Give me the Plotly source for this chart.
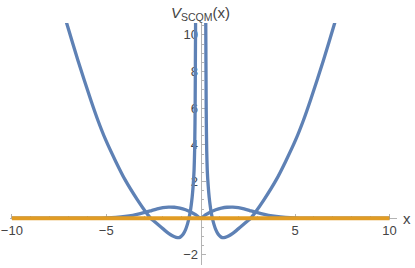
import plotly.graph_objects as go

# ---- data ----
# potential V_SCQM(x), right branch (x > 0) and left branch (x < 0)
v_x_right = [0.26, 0.27, 0.28, 0.29, 0.30, 0.32, 0.35, 0.40, 0.45, 0.50, 0.55, 0.62, 0.70,
             0.80, 0.92, 1.05, 1.15, 1.30, 1.50, 1.70, 1.90, 2.20, 2.45, 2.65, 2.90, 3.35,
             4.00, 4.50, 5.03, 5.45, 5.82, 6.50, 7.10, 7.40]
v_y_right = [13.0, 10.6, 8.5, 6.5, 5.2, 3.7, 2.6, 1.75, 1.15, 0.72, 0.36, 0.0, -0.32,
             -0.62, -0.86, -1.0, -1.06, -1.04, -0.95, -0.82, -0.66, -0.40, -0.18, 0.0, 0.33, 1.0,
             2.09, 3.10, 4.27, 5.36, 6.45, 8.6, 10.65, 11.7]
v_x_left = [-0.26, -0.27, -0.28, -0.29, -0.30, -0.32, -0.35, -0.40, -0.45, -0.50, -0.55, -0.62, -0.70,
            -0.80, -0.92, -1.05, -1.15, -1.30, -1.50, -1.70, -1.90, -2.20, -2.45, -2.65, -2.90, -3.35,
            -4.00, -4.50, -5.03, -5.45, -5.82, -6.50, -7.10, -7.40]
v_y_left = [13.0, 10.6, 8.5, 6.5, 5.2, 3.7, 2.6, 1.75, 1.15, 0.72, 0.36, 0.0, -0.32,
            -0.62, -0.86, -1.0, -1.06, -1.04, -0.95, -0.82, -0.66, -0.40, -0.18, 0.0, 0.33, 1.0,
            2.09, 3.10, 4.27, 5.36, 6.45, 8.6, 10.65, 11.7]

# density-like bump curve
bump_x = [-10.0, -6.0, -5.5, -5.0, -4.5, -4.0, -3.6, -3.2, -2.9, -2.6, -2.3, -2.0, -1.7, -1.4,
          -1.1, -0.8, -0.5, -0.25, 0.0, 0.25, 0.5, 0.8, 1.1, 1.4, 1.7, 2.0, 2.3, 2.6, 2.9,
          3.2, 3.6, 4.0, 4.5, 5.0, 5.5, 6.0, 10.0]
bump_y = [0.0, 0.0, 0.008, 0.02, 0.05, 0.10, 0.16, 0.25, 0.33, 0.42, 0.51, 0.58, 0.61, 0.60,
          0.55, 0.46, 0.33, 0.18, 0.0, 0.18, 0.33, 0.46, 0.55, 0.60, 0.61, 0.58, 0.51, 0.42, 0.33,
          0.25, 0.16, 0.10, 0.05, 0.02, 0.008, 0.0, 0.0]

# flat level line
level_x = [-10.0, 10.0]
level_y = [0.0, 0.0]

x_tick_vals = [-10, -5, 5, 10]
x_tick_text = ["\u221210", "\u22125", "5", "10"]
y_tick_vals = [-2, 2, 4, 6, 8, 10]
y_tick_text = ["\u22122", "2", "4", "6", "8", "10"]

X_RANGE = [-10.1, 10.4]
Y_RANGE = [-2.55, 10.65]

BLUE = "#5E81B5"
ORANGE = "#E19C24"
TXT = "#444444"
AX = "#b3b3b3"

fig = go.Figure()
for xs, ys in ((v_x_left, v_y_left), (v_x_right, v_y_right), (bump_x, bump_y)):
    fig.add_trace(go.Scatter(x=xs, y=ys, mode="lines",
                             line=dict(color=BLUE, width=3.3, shape="spline", smoothing=0.6),
                             showlegend=False, hoverinfo="skip"))
fig.add_trace(go.Scatter(x=level_x, y=level_y, mode="lines",
                         line=dict(color=ORANGE, width=3.8),
                         showlegend=False, hoverinfo="skip"))

xpos = (0 - Y_RANGE[0]) / (Y_RANGE[1] - Y_RANGE[0])
ypos = (0 - X_RANGE[0]) / (X_RANGE[1] - X_RANGE[0])

font = dict(family="Liberation Sans, Arial, sans-serif", size=13, color=TXT)

fig.update_layout(
    width=415, height=268,
    margin=dict(l=10, r=18, t=23, b=3, autoexpand=False),
    paper_bgcolor="white", plot_bgcolor="white",
    font=font,
    xaxis=dict(range=X_RANGE, anchor="free", position=xpos, side="bottom", automargin=False,
               showgrid=False, zeroline=False, showline=True, linecolor=AX, linewidth=1,
               layer="below traces", ticklabeloverflow="allow",
               tickmode="array", tickvals=x_tick_vals, ticktext=x_tick_text,
               ticks="inside", ticklen=4, tickcolor=AX, tickwidth=1, tickfont=font,
               minor=dict(ticks="inside", dtick=1, ticklen=2.5, tickcolor=AX, tickwidth=1,
                          showgrid=False)),
    yaxis=dict(range=Y_RANGE, anchor="free", position=ypos, side="left", automargin=False,
               showgrid=False, zeroline=False, showline=True, linecolor=AX, linewidth=1,
               layer="below traces", ticklabeloverflow="allow",
               tickmode="array", tickvals=y_tick_vals, ticktext=y_tick_text,
               ticks="inside", ticklen=4, tickcolor=AX, tickwidth=1, tickfont=font,
               minor=dict(ticks="inside", dtick=0.5, tick0=0, ticklen=2.5, tickcolor=AX,
                          tickwidth=1, showgrid=False)),
    annotations=[
        dict(text="x", xref="paper", x=1, xanchor="left", xshift=4, yref="y", y=0,
             yanchor="middle", showarrow=False,
             font=dict(family="Liberation Sans, Arial, sans-serif", size=15, color=TXT)),
        dict(text="<i>V</i><sub>SCQM</sub>(x)", xref="x", x=0, xanchor="center",
             yref="paper", y=1, yanchor="bottom", yshift=-2, showarrow=False,
             font=dict(family="Liberation Sans, Arial, sans-serif", size=15, color=TXT)),
    ],
)

# remove the default 8px page margin so the figure sits at the window's corner
fig.write_html("out.html", config={"displayModeBar": False, "staticPlot": True},
               post_script="document.body.style.margin='0';")
